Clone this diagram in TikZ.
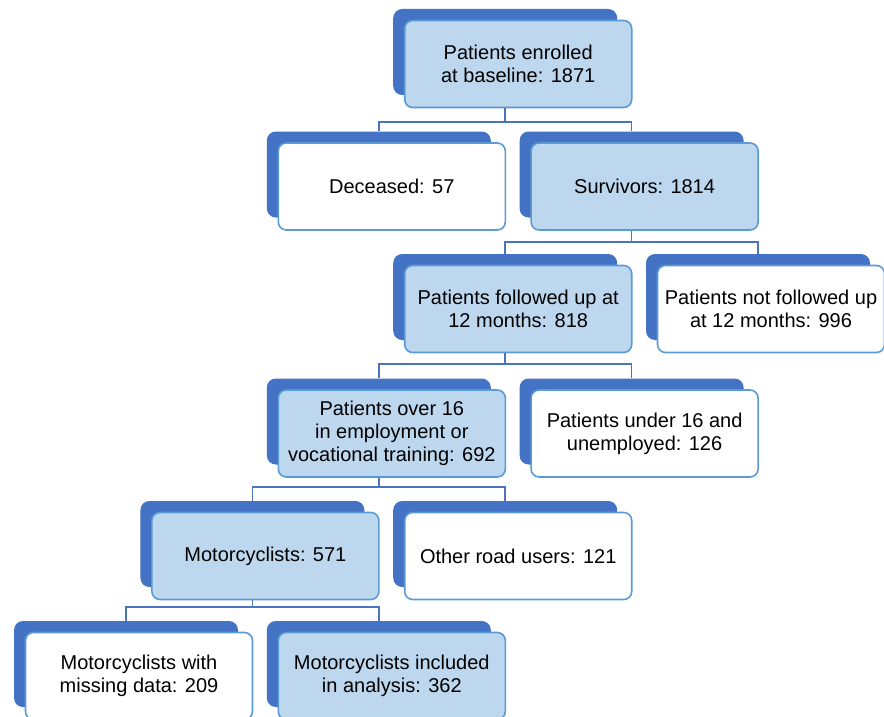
\documentclass[tikz,border=0pt]{standalone}
\usepackage{fontspec}
\setmainfont{Liberation Sans}
\usetikzlibrary{calc}
\definecolor{tabblue}{HTML}{4472C4}
\definecolor{edgeblue}{HTML}{5B9BD5}
\definecolor{lightfill}{HTML}{BDD7EE}
\definecolor{linkblue}{HTML}{4A74BE}
\tikzset{
  tabshape/.style={rectangle, rounded corners=9pt, fill=tabblue, draw=none,
    minimum width=224pt, minimum height=86pt, inner sep=0pt},
  frontbox/.style={rectangle, rounded corners=8pt, draw=edgeblue, line width=1.6pt,
    minimum width=227pt, minimum height=87pt, inner sep=0pt, align=center,
    font=\fontsize{20}{23}\selectfont},
  lightbox/.style={frontbox, fill=lightfill},
  whitebox/.style={frontbox, fill=white},
  conn/.style={draw=linkblue, line width=1.5pt},
}
% #1 name, #2 back-left x, #3 back-top y, #4 style, #5 text
\newcommand{\tabbedbox}[5]{%
  \node[tabshape] (#1-b) at (#2+112,#3+43) {};
  \node[#4] (#1) at (#2+11+114,#3+11+44) {#5};
}
\begin{document}
\begin{tikzpicture}[x=1pt,y=-1pt]
\useasboundingbox (0,0) rectangle (884,717);
\clip (0,0) rectangle (884,717);
\fill[white] (0,0) rectangle (884,717);

\tabbedbox{top}{393.2}{9}{lightbox}{Patients enrolled\\at baseline: 1871}
\tabbedbox{dec}{266.8}{131.5}{whitebox}{Deceased: 57}
\tabbedbox{sur}{519.6}{131.5}{lightbox}{Survivors: 1814}
\tabbedbox{fol}{393.2}{254}{lightbox}{Patients followed up at\\12 months: 818}
\tabbedbox{nfol}{646}{254}{whitebox}{Patients not followed up\\at 12 months: 996}
\tabbedbox{ovr}{266.8}{378.5}{lightbox}{Patients over 16\\in employment or\\vocational training: 692}
\tabbedbox{und}{519.6}{378.5}{whitebox}{Patients under 16 and\\unemployed: 126}
\tabbedbox{mot}{140.4}{501}{lightbox}{Motorcyclists: 571}
\tabbedbox{oth}{393.2}{501}{whitebox}{Other road users: 121}
\tabbedbox{mis}{14}{621}{whitebox}{Motorcyclists with\\missing data: 209}
\tabbedbox{inc}{266.8}{621}{lightbox}{Motorcyclists included\\in analysis: 362}

\coordinate (j1) at (0,122);
\coordinate (j2) at (0,242);
\coordinate (j3) at (0,364);
\coordinate (j4) at (0,487);
\coordinate (j5) at (0,607);

\draw[conn] (top-b |- top.south) -- (top-b |- j1);
\draw[conn] (dec-b.north) -- (dec-b |- j1) -- (sur-b |- j1) -- (sur-b.north);
\draw[conn] (sur-b |- sur.south) -- (sur-b |- j2);
\draw[conn] (fol-b.north) -- (fol-b |- j2) -- (nfol-b |- j2) -- (nfol-b.north);
\draw[conn] (fol-b |- fol.south) -- (fol-b |- j3);
\draw[conn] (ovr-b.north) -- (ovr-b |- j3) -- (und-b |- j3) -- (und-b.north);
\draw[conn] (ovr-b |- ovr.south) -- (ovr-b |- j4);
\draw[conn] (mot-b.north) -- (mot-b |- j4) -- (oth-b |- j4) -- (oth-b.north);
\draw[conn] (mot-b |- mot.south) -- (mot-b |- j5);
\draw[conn] (mis-b.north) -- (mis-b |- j5) -- (inc-b |- j5) -- (inc-b.north);
\end{tikzpicture}
\end{document}
